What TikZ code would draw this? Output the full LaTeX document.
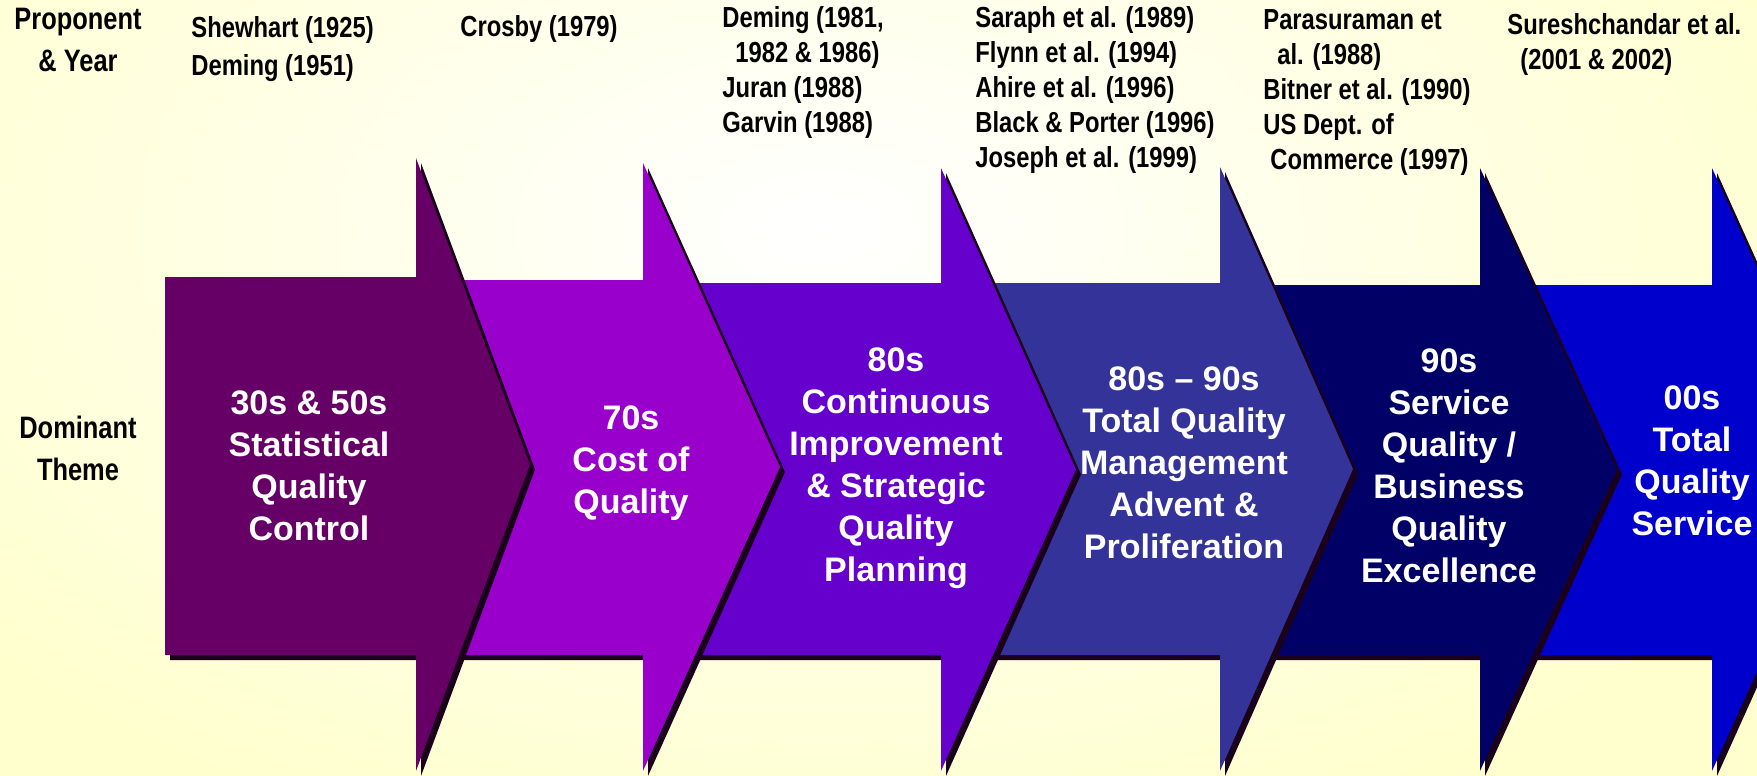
\documentclass[tikz,border=0pt]{standalone}
\usepackage{fontspec}
\setmainfont{Liberation Sans}
\newfontfamily\narrowsf[FakeStretch=0.82]{Liberation Sans}

\definecolor{bgyellow}{RGB}{255,255,206}
\definecolor{eraA}{RGB}{102,0,102}
\definecolor{eraB}{RGB}{153,0,204}
\definecolor{eraC}{RGB}{102,0,204}
\definecolor{eraD}{RGB}{51,51,153}
\definecolor{eraE}{RGB}{0,0,102}
\definecolor{eraF}{RGB}{0,0,204}
\definecolor{shadowink}{RGB}{26,0,26}

\begin{document}
\begin{tikzpicture}[x=0.5pt, y=-0.5pt]
\tikzset{
    heading/.style={font=\narrowsf\bfseries\fontsize{15.5}{21}\selectfont, align=center, anchor=north, inner sep=0pt},
    source/.style={font=\narrowsf\bfseries\fontsize{14.5}{17.5}\selectfont, align=left, anchor=north west, inner sep=0pt},
    theme/.style={font=\bfseries\fontsize{17}{21}\selectfont, text=white, align=center, inner sep=0pt},
}
\useasboundingbox (0,0) rectangle (1757,776);

% Background, lighter towards the top middle.
\fill[bgyellow] (0,0) rectangle (1757,776);
\shade[inner color=white, outer color=bgyellow] (820,230) ellipse [x radius=1100, y radius=650];

% Draw the chevrons from right to left, so each one lies on top of the next.
% left / head edge / tip / head top / body top / colour
\foreach \l/\e/\t/\h/\b/\c in {1480/1712/1848/168/285/eraF, 1220/1480/1617/168/285/eraE,
                               941/1220/1353/167/283/eraD, 643/941/1076/168/283/eraC,
                               416/643/780/163/280/eraB, 165/416/530/158/277/eraA} {
    \fill[shadowink, shift={(5,5)}] (\l,\b) -- (\e,\b) -- (\e,\h) -- (\t,{(\h+771)/2}) -- (\e,771) -- (\e,655) -- (\l,655) -- cycle;
    \fill[\c] (\l,\b) -- (\e,\b) -- (\e,\h) -- (\t,{(\h+771)/2}) -- (\e,771) -- (\e,655) -- (\l,655) -- cycle;
}

% Row headings on the left.
\node[heading] (prop)  at (78,8)   {Proponent\\\& Year};
\node[heading] (theme) at (78,416) {Dominant\\Theme};

% Proponents, one column per era.
\node[source] (srcA) at (191,16)  {Shewhart (1925)\\[1.5pt]Deming (1951)};
\node[source] (srcB) at (460,15)  {Crosby (1979)};
\node[source] (srcC) at (722,6)   {Deming (1981,\\\hspace*{6.5pt}1982 \& 1986)\\Juran (1988)\\Garvin (1988)};
\node[source] (srcD) at (975,6)   {Saraph et al. (1989)\\Flynn et al. (1994)\\Ahire et al. (1996)\\Black \& Porter (1996)\\Joseph et al. (1999)};
\node[source] (srcE) at (1263,9)  {Parasuraman et\\\hspace*{7pt}al. (1988)\\Bitner et al. (1990)\\US Dept. of\\\hspace*{3.5pt}Commerce (1997)};
\node[source] (srcF) at (1507,13) {Sureshchandar et al.\\\hspace*{6.5pt}(2001 \& 2002)};

% Dominant themes, placed last on top of the chevrons.
\node[theme] (eraA) at (309,466)  {30s \& 50s\\Statistical\\Quality\\Control};
\node[theme] (eraB) at (631,463)  {70s\\Cost of\\Quality};
\node[theme] (eraC) at (896,468)  {80s\\Continuous\\Improvement\\\& Strategic\\Quality\\Planning};
\node[theme] (eraD) at (1184,463) {80s – 90s\\Total Quality\\Management\\Advent \&\\Proliferation};
\node[theme] (eraE) at (1449,466) {90s\\Service\\Quality /\\Business\\Quality\\Excellence};
\node[theme] (eraF) at (1692,461) {00s\\Total\\Quality\\Service};
\end{tikzpicture}
\end{document}
